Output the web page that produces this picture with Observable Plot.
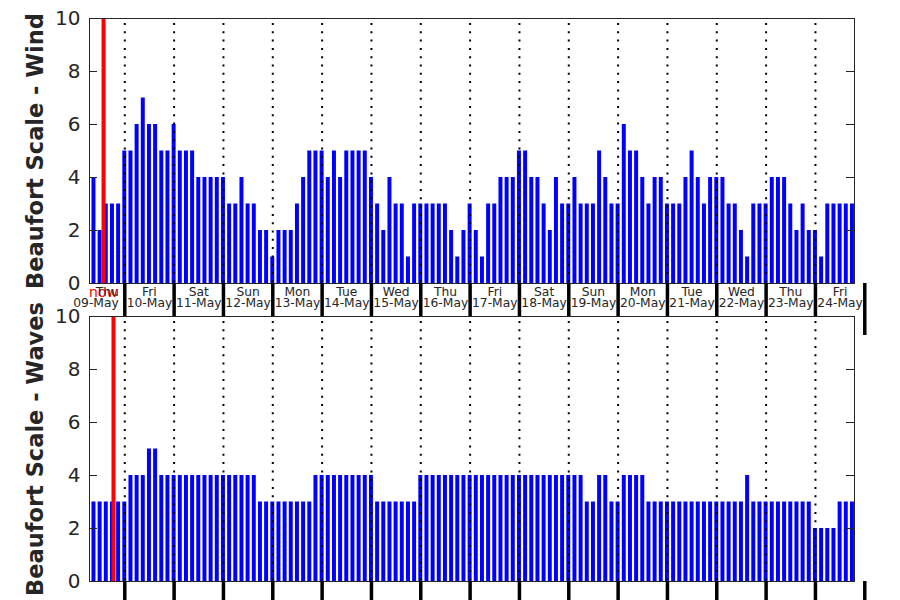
<!DOCTYPE html>
<html><head><meta charset="utf-8">
<script src="https://cdn.jsdelivr.net/npm/d3@7"></script>
<script src="https://cdn.jsdelivr.net/npm/@observablehq/plot@0.6"></script>
<style>
html,body{margin:0;padding:0;background:#fff;}
#chart{position:relative;width:900px;height:600px;overflow:hidden;font-family:"DejaVu Sans",sans-serif;background:#fff;}
#chart svg{position:absolute;left:0;top:0;background:transparent !important;}
</style></head><body><div id="chart"></div>
<script>
// ---- data ----
const startTime = "2024-05-09T09:00:00Z"; // first 3-hourly value
const stepHours = 3;
const wind = [
  4,2,3,3,3,
  5,5,6,7,6,6,5,5,
  6,5,5,5,4,4,4,4,
  4,3,3,4,3,3,2,2,
  1,2,2,2,3,4,5,5,
  5,4,5,4,5,5,5,5,
  4,3,2,4,3,3,1,3,
  3,3,3,3,3,2,1,2,
  3,2,1,3,3,4,4,4,
  5,5,4,4,3,2,4,3,
  3,4,3,3,3,5,4,3,
  3,6,5,5,4,3,4,4,
  3,3,3,4,5,4,3,4,
  4,4,3,3,2,1,3,3,
  3,4,4,4,3,2,3,2,
  2,1,3,3,3,3,3
];
const waves = [
  3,3,3,3,3,
  3,4,4,4,5,5,4,4,
  4,4,4,4,4,4,4,4,
  4,4,4,4,4,4,3,3,
  3,3,3,3,3,3,3,4,
  4,4,4,4,4,4,4,4,
  4,3,3,3,3,3,3,3,
  4,4,4,4,4,4,4,4,
  4,4,4,4,4,4,4,4,
  4,4,4,4,4,4,4,4,
  4,4,4,3,3,4,4,3,
  3,4,4,4,4,3,3,3,
  3,3,3,3,3,3,3,3,
  3,3,3,3,3,4,3,3,
  3,3,3,3,3,3,3,3,
  2,2,2,2,3,3,3
];
const dayNames = ["Thu","Fri","Sat","Sun","Mon","Tue","Wed","Thu","Fri","Sat","Sun","Mon","Tue","Wed","Thu","Fri"];
const dayDates = ["09-May","10-May","11-May","12-May","13-May","14-May","15-May","16-May","17-May","18-May","19-May","20-May","21-May","22-May","23-May","24-May"];
const dayStarts = ["2024-05-09","2024-05-10","2024-05-11","2024-05-12","2024-05-13","2024-05-14","2024-05-15","2024-05-16","2024-05-17","2024-05-18","2024-05-19","2024-05-20","2024-05-21","2024-05-22","2024-05-23","2024-05-24","2024-05-25"];
const nowWind = "2024-05-09T13:40:00Z";
const nowWaves = "2024-05-09T18:30:00Z";
const xDomain = ["2024-05-09T06:50:00Z","2024-05-24T19:00:00Z"];
const yTicks = [0,2,4,6,8,10];
const labelWind = "Beaufort Scale - Wind";
const labelWaves = "Beaufort Scale - Waves";

// ---- derived ----
const H = 3600 * 1000;
const t0 = Date.parse(startTime);
const toRows = vals => vals.map((v, i) => ({t: new Date(t0 + i * stepHours * H), v}));
const domain = xDomain.map(d => new Date(d));
const bounds = dayStarts.slice(1).map(d => new Date(d + "T00:00:00Z"));
const innerBounds = bounds.filter(d => d < domain[1]);
const lastBound = bounds.filter(d => d >= domain[1]);
const dayRows = dayNames.map((n, i) => ({
  noon: new Date(Date.parse(dayStarts[i] + "T00:00:00Z") + 12 * H),
  end: new Date(dayStarts[i + 1] + "T00:00:00Z"),
  text: n + "\n" + dayDates[i]
}));

const W = 900, ML = 89, MR = 46;
const PW = W - ML - MR;
const FG = "#262626";

function panel({values, now, height, marginTop, marginBottom, label, top, tickSize, lastTickSize}) {
  const rows = toRows(values);
  const marks = [
    Plot.rectY(rows, {x1: d => new Date(+d.t - 58 * 60 * 1000), x2: d => new Date(+d.t + 58 * 60 * 1000), y: "v", fill: "#0000ff"}),
    Plot.ruleX(innerBounds, {x: d => d, stroke: "black", strokeWidth: 2, strokeDasharray: "2,6.3", strokeDashoffset: -5}),
    Plot.ruleX([new Date(now)], {x: d => d, stroke: "red", strokeWidth: 4}),
    Plot.frame({stroke: FG, strokeWidth: 1}),
    Plot.tickY(yTicks, {y: d => d, stroke: FG, insetRight: PW - 8}),
    Plot.tickY(yTicks, {y: d => d, stroke: FG, insetLeft: PW - 8}),
    Plot.axisY({ticks: yTicks, label: null, tickSize: 0, tickPadding: 9, fontSize: 20, color: FG, tickFormat: d => String(d)}),
    Plot.axisX(innerBounds, {label: null, tickSize, strokeWidth: 3.5, stroke: "black", tickFormat: () => ""}),
    Plot.axisX(lastBound, {label: null, tickSize: lastTickSize, strokeWidth: 3.5, stroke: "black", tickFormat: () => ""}),
    Plot.text([label], {text: d => d, frameAnchor: "left", textAnchor: "middle", lineAnchor: "bottom", rotate: -90, dx: -46.5, fontSize: 22.5, fontWeight: "bold", fill: FG})
  ];
  if (top) {
    marks.push(
      Plot.text([new Date(now)], {x: d => d, text: () => "now", frameAnchor: "bottom", lineAnchor: "top", dy: 4, fontSize: 14, fill: "red"}),
      Plot.text(dayRows.slice(0, 1), {x: "end", text: "text", frameAnchor: "bottom", lineAnchor: "top", textAnchor: "end", dx: -6, dy: 5, fontSize: 12.3, lineHeight: 0.9, fill: FG}),
      Plot.text(dayRows.slice(1), {x: "noon", text: "text", frameAnchor: "bottom", lineAnchor: "top", dy: 5, fontSize: 12.3, lineHeight: 0.9, fill: FG})
    );
  }
  return Plot.plot({
    width: W, height, marginTop, marginBottom, marginLeft: ML, marginRight: MR,
    style: {background: "transparent", fontFamily: "DejaVu Sans, sans-serif", overflow: "visible"},
    x: {type: "utc", domain, label: null},
    y: {domain: [0, 10], label: null},
    marks
  });
}

const chart = document.getElementById("chart");
chart.append(panel({values: waves, now: nowWaves, height: 600, marginTop: 316, marginBottom: 19, label: labelWaves, top: false, tickSize: 30, lastTickSize: 30}));
chart.append(panel({values: wind, now: nowWind, height: 340, marginTop: 18, marginBottom: 57, label: labelWind, top: true, tickSize: 33, lastTickSize: 52}));
</script></body></html>
